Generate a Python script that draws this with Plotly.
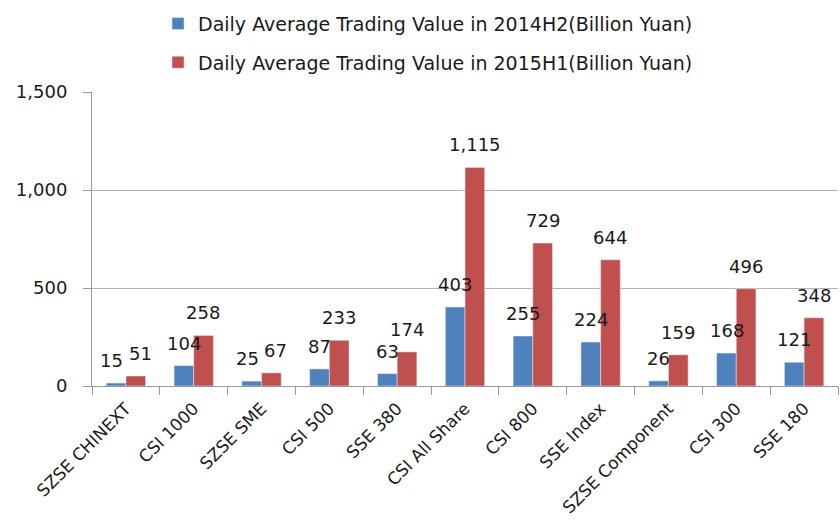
import plotly.graph_objects as go

categories = ["SZSE CHINEXT", "CSI 1000", "SZSE SME", "CSI 500", "SSE 380", "CSI All Share",
              "CSI 800", "SSE Index", "SZSE Component", "CSI 300", "SSE 180"]
values_2014h2 = [15, 104, 25, 87, 63, 403, 255, 224, 26, 168, 121]
values_2015h1 = [51, 258, 67, 233, 174, 1115, 729, 644, 159, 496, 348]
name_2014h2 = "Daily Average Trading Value in 2014H2(Billion Yuan)"
name_2015h1 = "Daily Average Trading Value in 2015H1(Billion Yuan)"
y_ticks = [0, 500, 1000, 1500]

FONT = "DejaVu Sans"
BLUE = "#4F81BD"
RED = "#C0504D"
TXT = "#1a1a1a"
LABEL_SIZE = 18

fig = go.Figure()
fig.add_trace(go.Bar(x=categories, y=values_2014h2, name=name_2014h2, marker_color=BLUE,
                     legendgroup="a"))
fig.add_trace(go.Bar(x=categories, y=values_2015h1, name=name_2015h1, marker_color=RED,
                     legendgroup="b"))

# data labels, nudged apart horizontally when the pair would collide
PX_PER_UNIT = 294 / 1500.0
HALF_BAR = 9.7
annotations = []
for c, vb, vr in zip(categories, values_2014h2, values_2015h1):
    tb, tr = f"{vb:,}", f"{vr:,}"
    wb = len(tb) * 0.636 * LABEL_SIZE
    wr = len(tr) * 0.636 * LABEL_SIZE
    extra = 0.0
    if abs(vb - vr) * PX_PER_UNIT < LABEL_SIZE:
        need = (wb + wr) / 2 + 6 - 2 * HALF_BAR
        if need > 0:
            extra = need / 2
    for v, t, s in ((vb, tb, -HALF_BAR - extra), (vr, tr, HALF_BAR + extra)):
        annotations.append(dict(x=c, y=v, xref="x", yref="y", text=t, showarrow=False,
                                xshift=s, yshift=10, yanchor="bottom",
                                font=dict(family=FONT, size=LABEL_SIZE, color=TXT)))

fig.update_layout(
    width=840, height=521,
    margin=dict(l=92, r=2, t=92, b=135, autoexpand=False),
    paper_bgcolor="white", plot_bgcolor="white",
    barmode="group", bargap=0.42, bargroupgap=0,
    font=dict(family=FONT, size=18, color=TXT),
    showlegend=True,
    legend=dict(x=0.0885, xanchor="left", y=1.297, yanchor="top", tracegroupgap=11,
                font=dict(family=FONT, size=19, color=TXT), bgcolor="rgba(0,0,0,0)"),
    annotations=annotations,
    xaxis=dict(tickangle=-45, ticks="outside", tickson="boundaries", ticklen=8,
               tickcolor="#999", showline=True, linecolor="#999", linewidth=1,
               showgrid=False, ticklabelstandoff=5, automargin=False,
               tickfont=dict(family=FONT, size=17, color=TXT)),
    yaxis=dict(range=[0, 1500], tickvals=y_ticks, tickformat=",", ticks="outside",
               ticklen=8, tickcolor="#999", showline=True, linecolor="#999", linewidth=1,
               showgrid=True, gridcolor="#b3b3b3", gridwidth=1, zeroline=False,
               ticklabelstandoff=12, automargin=False,
               tickfont=dict(family=FONT, size=18, color=TXT)),
)

fig.write_html("out.html")
